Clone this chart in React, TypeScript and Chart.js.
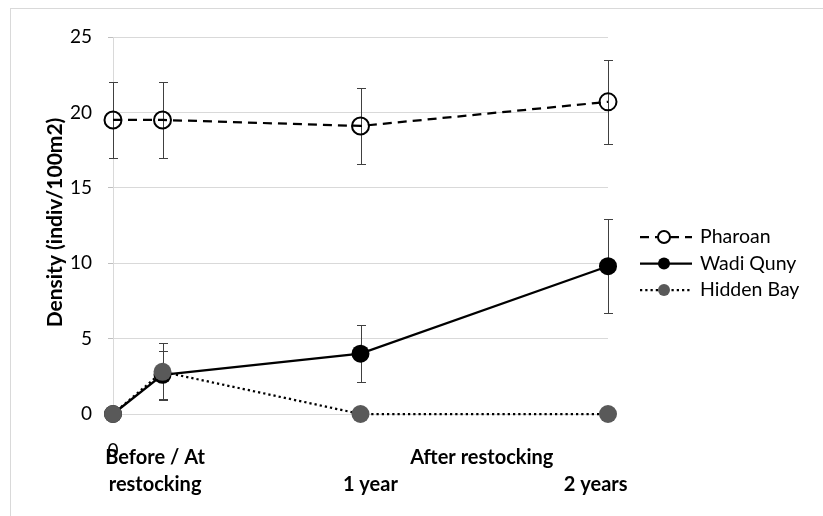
import React, { useEffect, useRef } from "react";
import { Chart, registerables } from "chart.js";

Chart.register(...registerables);

// ---- data ----
const xValues = [0, 0.2, 1, 2];
const seriesNames = ["Pharoan", "Wadi Quny", "Hidden Bay"];
const pharoan = [19.5, 19.5, 19.1, 20.7];
const pharoanErr = [2.5, 2.5, 2.5, 2.8];
const wadiQuny = [0, 2.6, 4.0, 9.8];
const wadiQunyErr = [0, 1.6, 1.9, 3.1];
const hiddenBay = [0, 2.8, 0, 0];
const hiddenBayErr = [0, 1.9, 0, 0];
const yTicks = [0, 5, 10, 15, 20, 25];
const yTitle = "Density (indiv/100m2)";
// group labels under the x axis: [text, x value anchor, row]
const groupLabels: [string, number, number][] = [
  ["Before / At", 0.17, 0],
  ["restocking", 0.17, 1],
  ["After restocking", 1.49, 0],
  ["1 year", 1.04, 1],
  ["2 years", 1.95, 1],
];

const FONT = "Lato, 'Open Sans', sans-serif";

const errors = [pharoanErr, wadiQunyErr, hiddenBayErr];

const errorBarPlugin = {
  id: "errorBars",
  beforeDatasetsDraw(chart: any) {
    const ctx = chart.ctx;
    const ys = chart.scales.y;
    ctx.save();
    ctx.strokeStyle = "#404040";
    ctx.lineWidth = 1;
    chart.data.datasets.forEach((ds: any, i: number) => {
      const meta = chart.getDatasetMeta(i);
      const errs = errors[i];
      meta.data.forEach((pt: any, j: number) => {
        const e = errs[j];
        if (!e) return;
        const v = ds.data[j].y;
        const x = Math.round(pt.x) + 0.5;
        const yt = Math.round(ys.getPixelForValue(v + e)) + 0.5;
        const yb = Math.round(ys.getPixelForValue(v - e)) + 0.5;
        ctx.beginPath();
        ctx.moveTo(x, yt);
        ctx.lineTo(x, yb);
        ctx.moveTo(x - 4.5, yt);
        ctx.lineTo(x + 4.5, yt);
        ctx.moveTo(x - 4.5, yb);
        ctx.lineTo(x + 4.5, yb);
        ctx.stroke();
      });
    });
    ctx.restore();
  },
};

const decorPlugin = {
  id: "decor",
  afterDraw(chart: any) {
    const ctx = chart.ctx;
    const xs = chart.scales.x;
    const area = chart.chartArea;
    ctx.save();
    // y title
    ctx.fillStyle = "#000";
    ctx.font = `bold 21px ${FONT}`;
    ctx.textAlign = "center";
    ctx.textBaseline = "middle";
    ctx.translate(55, (area.top + area.bottom) / 2 - 3);
    ctx.rotate(-Math.PI / 2);
    ctx.fillText(yTitle, 0, 0);
    ctx.restore();

    // group labels
    ctx.save();
    ctx.fillStyle = "#000";
    ctx.font = `bold 20px ${FONT}`;
    ctx.textAlign = "center";
    ctx.textBaseline = "middle";
    groupLabels.forEach(([t, v, row]) => {
      ctx.fillText(t, xs.getPixelForValue(v), area.bottom + 44 + row * 27);
    });
    ctx.restore();

    // legend
    ctx.save();
    const lx0 = area.right + 32;
    const lx1 = area.right + 84;
    const mx = area.right + 56;
    const tx = area.right + 92;
    const y0 = 237;
    const dy = 26.5;
    chart.data.datasets.forEach((ds: any, i: number) => {
      const y = y0 + i * dy;
      ctx.strokeStyle = "#000";
      ctx.lineWidth = 2.25;
      ctx.setLineDash(ds.borderDash || []);
      ctx.beginPath();
      ctx.moveTo(lx0, y);
      ctx.lineTo(lx1, y);
      ctx.stroke();
      ctx.setLineDash([]);
      ctx.beginPath();
      ctx.arc(mx, y, 6, 0, Math.PI * 2);
      if (ds.pointBackgroundColor !== "rgba(0,0,0,0)") {
        ctx.fillStyle = ds.pointBackgroundColor;
        ctx.fill();
      } else {
        ctx.fillStyle = "#fff";
        ctx.fill();
        ctx.lineWidth = 2;
        ctx.stroke();
      }
      ctx.fillStyle = "#000";
      ctx.font = `19.5px ${FONT}`;
      ctx.textAlign = "left";
      ctx.textBaseline = "middle";
      ctx.fillText(seriesNames[i], tx, y);
    });
    ctx.restore();
  },
};

export default function App() {
  const ref = useRef<HTMLCanvasElement>(null);
  useEffect(() => {
    if (!ref.current) return;
    const toPts = (arr: number[]) => arr.map((y, i) => ({ x: xValues[i], y }));
    const chart = new Chart(ref.current, {
      type: "line",
      data: {
        datasets: [
          {
            label: seriesNames[0],
            data: toPts(pharoan),
            borderColor: "#000",
            borderWidth: 2.25,
            borderDash: [9, 6],
            pointRadius: 8.5,
            pointBorderWidth: 2,
            pointBorderColor: "#000",
            pointBackgroundColor: "rgba(0,0,0,0)",
            order: 3,
            clip: false,
          },
          {
            label: seriesNames[1],
            data: toPts(wadiQuny),
            borderColor: "#000",
            borderWidth: 2.25,
            pointRadius: 9,
            pointBorderWidth: 0,
            pointBackgroundColor: "#000",
            pointBorderColor: "#000",
            order: 2,
            clip: false,
          },
          {
            label: seriesNames[2],
            data: toPts(hiddenBay),
            borderColor: "#000",
            borderWidth: 2.25,
            borderDash: [2.25, 3],
            pointRadius: 9,
            pointBorderWidth: 0,
            pointBackgroundColor: "#595959",
            pointBorderColor: "#595959",
            order: 1,
            clip: false,
          },
        ],
      },
      options: {
        animation: false,
        responsive: false,
        events: [],
        layout: { padding: { left: 0, top: 37, right: 215, bottom: 0 } },
        plugins: { legend: { display: false }, tooltip: { enabled: false } },
        scales: {
          x: {
            type: "linear",
            min: 0,
            max: 2,
            afterFit: (s: any) => {
              s.height = 102;
            },
            grid: { display: false, drawTicks: false },
            border: { display: true, color: "#d9d9d9", width: 1 },
            ticks: {
              stepSize: 1,
              padding: 25,
              autoSkip: false,
              maxRotation: 0,
              color: "#000",
              font: { family: FONT, size: 19 },
              callback: (v: any) => (v === 0 ? "0" : ""),
            },
          },
          y: {
            min: 0,
            max: 25,
            afterFit: (s: any) => {
              s.width = 113;
            },
            afterBuildTicks: (s: any) => {
              s.ticks = yTicks.map((v) => ({ value: v }));
            },
            grid: {
              color: "#d9d9d9",
              lineWidth: 1,
              tickLength: 5,
              tickColor: "#bfbfbf",
            },
            border: { display: true, color: "#d9d9d9", width: 1 },
            ticks: {
              padding: 16,
              color: "#000",
              font: { family: FONT, size: 19 },
            },
          },
        },
      },
      plugins: [errorBarPlugin, decorPlugin],
    });
    return () => chart.destroy();
  }, []);

  return (
    <div
      style={{
        position: "absolute",
        left: 0,
        top: 0,
        width: 823,
        height: 516,
        overflow: "hidden",
        background: "#fff",
      }}
    >
      <div
        style={{
          position: "absolute",
          left: 10,
          top: 8,
          width: 900,
          height: 600,
          border: "1px solid #d9d9d9",
        }}
      />
      <canvas
        ref={ref}
        width={823}
        height={516}
        style={{ position: "absolute", left: 0, top: 0 }}
      />
    </div>
  );
}
